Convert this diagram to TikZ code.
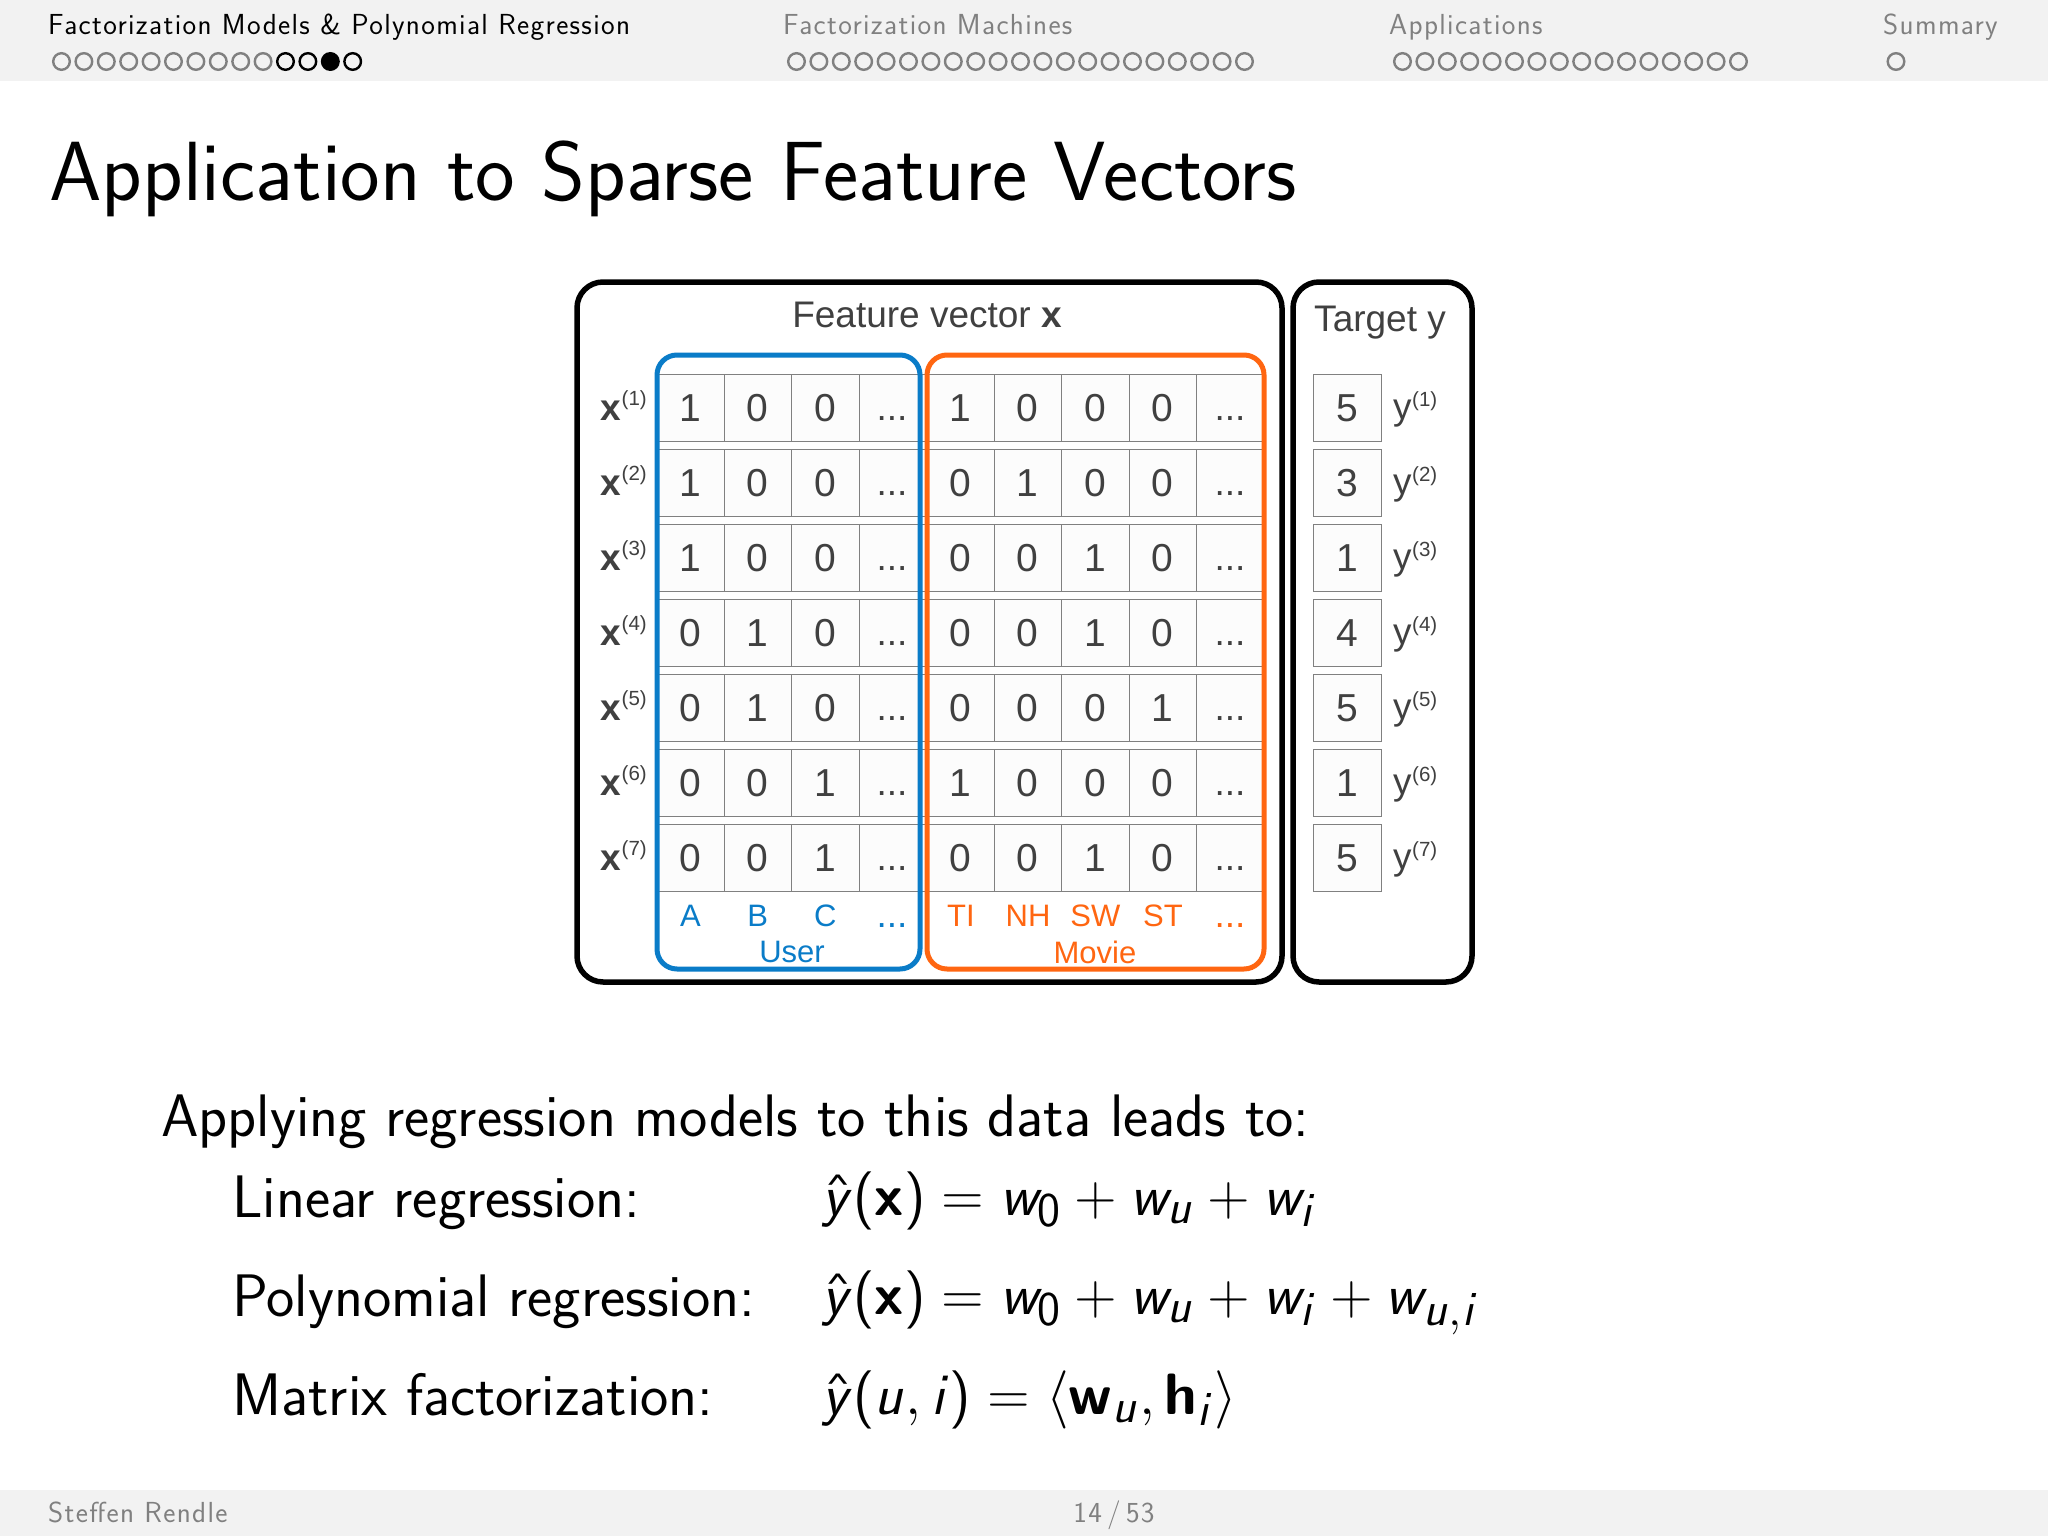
\documentclass[tikz,border=0pt]{standalone}
\usepackage[no-math]{fontspec}
\usepackage{amsmath}
\newfontfamily\arial{Liberation Sans}
\setsansfont{Latin Modern Sans}
\newfontfamily\navfont[LetterSpace=4.6]{Latin Modern Sans}
\SetSymbolFont{operators}{normal}{OT1}{cmss}{m}{n}
\DeclareSymbolFont{sfslant}{OT1}{cmss}{m}{sl}
\DeclareMathSymbol{w}{\mathalpha}{sfslant}{`w}
\DeclareMathSymbol{y}{\mathalpha}{sfslant}{`y}
\DeclareMathSymbol{u}{\mathalpha}{sfslant}{`u}
\DeclareMathSymbol{i}{\mathalpha}{sfslant}{`i}
\DeclareMathAlphabet{\mathbs}{OT1}{cmss}{bx}{n}
\definecolor{ublue}{HTML}{0A7CC8}
\definecolor{morange}{HTML}{FF6611}
\definecolor{barbg}{HTML}{F2F2F2}
\definecolor{ink}{HTML}{404040}
\definecolor{cellline}{HTML}{808080}
\definecolor{navgray}{HTML}{808080}
\newcommand{\fs}[1]{\fontsize{#1}{#1}\selectfont}
\newcommand{\bigmath}[1]{\scalebox{2.345}{\fontsize{24.88}{30}\selectfont$#1$}}
\tikzset{
  cellbox/.style={draw=cellline,line width=1.1pt,fill=white!99!black},
  celltext/.style={font=\arial\fs{39},text=ink,anchor=center,inner sep=0pt},
  dotstext/.style={font=\arial\fs{37},text=ink,anchor=center,inner sep=0pt},
  bigbox/.style={draw=black,line width=5.5pt,rounded corners=26pt},
  groupbox/.style={line width=5pt,rounded corners=20pt},
  navdot/.style={draw=navgray,line width=2.4pt},
  navtext/.style={font=\navfont\fs{29},anchor=base west,inner sep=0pt,text=navgray},
  slidetext/.style={font=\sffamily\fs{60},anchor=base west,inner sep=0pt},
  formula/.style={anchor=base west,inner sep=0pt},
  rowlabel/.style={font=\arial\fs{37},text=ink,anchor=base west,inner sep=0pt},
  rowsup/.style={font=\arial\fs{20.5},text=ink,anchor=base west,inner sep=0pt},
  grouplabel/.style={font=\arial\fs{31},anchor=center,inner sep=0pt},
}
\begin{document}
\begin{tikzpicture}[x=1pt,y=-1pt]
\useasboundingbox (0,0) rectangle (2048,1536);
\fill[white] (0,0) rectangle (2048,1536);
\fill[barbg] (0,0) rectangle (2048,81);
\fill[barbg] (0,1490) rectangle (2048,1536);
% header
\node[navtext,text=black] (s1) at (48,35) {Factorization Models \& Polynomial Regression};
\node[navtext] (s2) at (783,35) {Factorization Machines};
\node[navtext] (s3) at (1389,35) {Applications};
\node[navtext] (s4) at (1883,35) {Summary};
\foreach \k in {0,...,9} \draw[navdot] ({61.5+22.4*\k},61.5) circle (8.3);
\foreach \k in {10,11,13} \draw[navdot,draw=black] ({61.5+22.4*\k},61.5) circle (8.3);
\fill[black] ({61.5+22.4*12},61.5) circle (9.5);
\foreach \k in {0,...,20} \draw[navdot] ({796.5+22.4*\k},61.5) circle (8.3);
\foreach \k in {0,...,15} \draw[navdot] ({1402.5+22.4*\k},61.5) circle (8.3);
\draw[navdot] (1896,61.5) circle (8.3);
% title
\node[font=\sffamily\fs{84},anchor=base west,inner sep=0pt] (title) at (49,200) {Application to Sparse Feature Vectors};
% boxes
\draw[bigbox] (577,282) rectangle (1282,982);
\draw[bigbox] (1293,282) rectangle (1472,982);
\node[font=\arial\fs{37},text=ink,anchor=base,inner sep=0pt] (fv) at (927,327) {Feature vector \textbf{x}};
\node[font=\arial\fs{37},text=ink,anchor=base west,inner sep=0pt] (ty) at (1314,331) {Target y};
% cells
\foreach \ua/\ub/\uc/\ma/\mb/\mc/\md/\tv [count=\ri from 0] in {1/0/0/1/0/0/0/5,1/0/0/0/1/0/0/3,1/0/0/0/0/1/0/1,0/1/0/0/0/1/0/4,0/1/0/0/0/0/1/5,0/0/1/1/0/0/0/1,0/0/1/0/0/1/0/5}{
  \pgfmathsetmacro\yt{374.3+75*\ri}
  \pgfmathsetmacro\yc{\yt+34}
  \pgfmathsetmacro\yd{\yt+44.3}
  \foreach \xa in {657,724.3,791.8,859.3}
    \draw[cellbox] (\xa,\yt) rectangle ++(67.5,67.4);
  \foreach \xa in {927,994.3,1061.8,1129.3,1196.8}
    \draw[cellbox] (\xa,\yt) rectangle ++(67.5,67.4);
  \draw[cellbox] (1313.5,\yt) rectangle ++(68,67.4);
  \node[celltext] at (690.5,\yc) {\ua};
  \node[celltext] at (757.8,\yc) {\ub};
  \node[celltext] at (825.3,\yc) {\uc};
  \node[dotstext] at (892,\yd) {...};
  \node[celltext] at (960,\yc) {\ma};
  \node[celltext] at (1027.8,\yc) {\mb};
  \node[celltext] at (1095.3,\yc) {\mc};
  \node[celltext] at (1162.8,\yc) {\md};
  \node[dotstext] at (1230,\yd) {...};
  \node[celltext] at (1347.5,\yc) {\tv};
  \pgfmathtruncatemacro\rn{\ri+1}
  \node[rowlabel] at (600.5,\yt+45.7) {\textbf{x}};
  \node[rowsup] at (621.5,\yt+31) {(\rn)};
  \node[rowlabel] at (1393,\yt+45) {y};
  \node[rowsup] at (1412,\yt+32) {(\rn)};
}
\draw[groupbox,draw=ublue] (657,355) rectangle (920,969);
\draw[groupbox,draw=morange] (927,355) rectangle (1264,969);
\foreach \tx/\xp in {A/690.5,B/757.8,C/825.3}
  \node[grouplabel,text=ublue] at (\xp,916) {\tx};
\node[dotstext,text=ublue] at (892,926) {...};
\node[grouplabel,text=ublue] (user) at (792,952) {User};
\foreach \tx/\xp in {TI/961,NH/1028,SW/1095.3,ST/1163}
  \node[grouplabel,text=morange] at (\xp,916) {\tx};
\node[dotstext,text=morange] at (1230,926) {...};
\node[grouplabel,text=morange] (movie) at (1095,952) {Movie};
% body text
\node[slidetext] (b0) at (161,1136) {Applying regression models to this data leads to:};
\node[slidetext] (b1) at (232,1217) {Linear regression:};
\node[slidetext] (b2) at (232,1316) {Polynomial regression:};
\node[slidetext] (b3) at (232,1415) {Matrix factorization:};
\node[formula] (f1) at (822,1215) {\bigmath{\hat{y}(\mathbs{x})=w_0+w_u+w_i}};
\node[formula] (f2) at (822,1314) {\bigmath{\hat{y}(\mathbs{x})=w_0+w_u+w_i+w_{u,i}}};
\node[formula] (f3) at (822,1414) {\bigmath{\hat{y}(u,i)=\langle\mathbs{w}_u,\mathbs{h}_i\rangle}};
% footer
\node[navtext] (au) at (48,1522) {Steffen Rendle};
\node[navtext,anchor=base] (pg) at (1114,1522) {14\hspace{0.18em}/\hspace{0.18em}53};
\end{tikzpicture}
\end{document}
